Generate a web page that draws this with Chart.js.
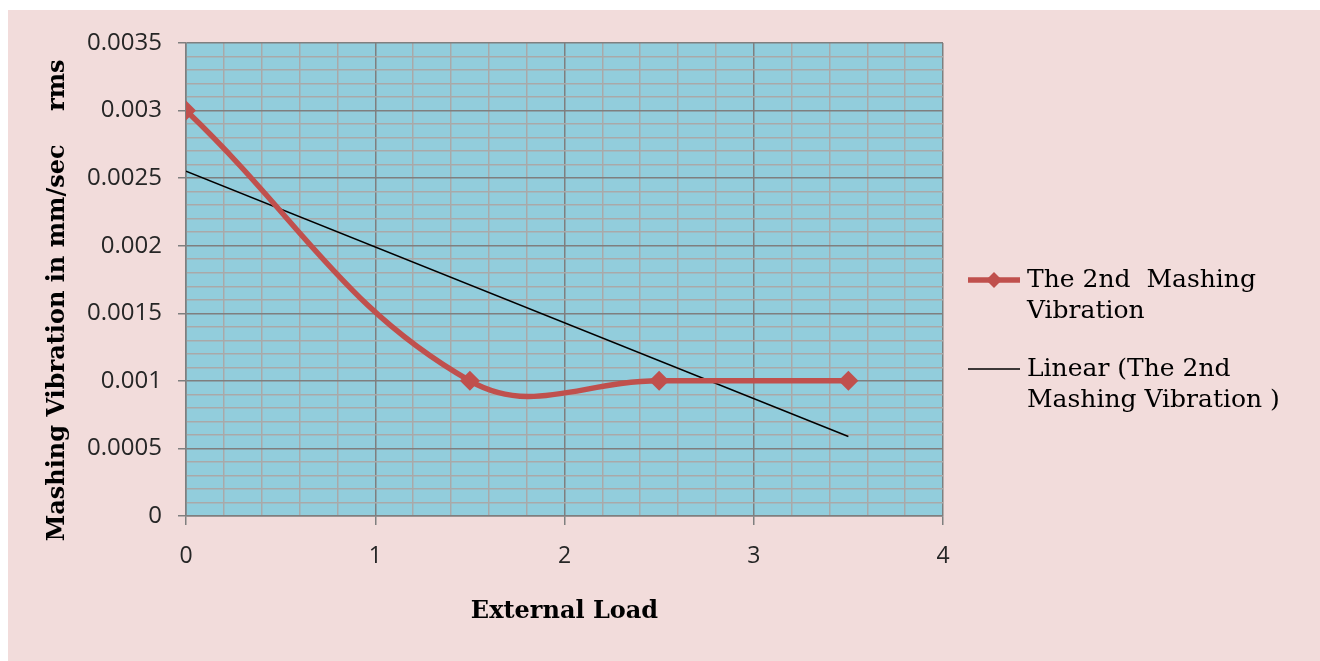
<!DOCTYPE html>
<html>
<head>
<meta charset="utf-8">
<script src="https://cdn.jsdelivr.net/npm/chart.js@4"></script>
<style>
  html, body { margin: 0; padding: 0; background: #ffffff; }
  #wrap { width: 1320px; height: 661px; position: relative; }
</style>
</head>
<body>
<div id="wrap"><canvas id="vibChart" width="1320" height="661"></canvas></div>
<script>
// External load vs. 2nd mashing vibration (mm/sec rms)
const loads = [0, 1.5, 2.5, 3.5];
const vibration = [0.003, 0.001, 0.001, 0.001];
const xTickLabels = ['0', '1', '2', '3', '4'];
const yTickLabels = ['0', '0.0005', '0.001', '0.0015', '0.002', '0.0025', '0.003', '0.0035'];

const seriesName = ['The 2nd  Mashing', 'Vibration'];
const trendName = ['Linear (The 2nd', 'Mashing Vibration )'];

// least squares trendline over the measured points
function linearFit(xs, ys) {
    const n = xs.length;
    const mx = xs.reduce((a, b) => a + b, 0) / n;
    const my = ys.reduce((a, b) => a + b, 0) / n;
    let sxy = 0, sxx = 0;
    for (let i = 0; i < n; i++) {
        sxy += (xs[i] - mx) * (ys[i] - my);
        sxx += (xs[i] - mx) * (xs[i] - mx);
    }
    const slope = sxy / sxx;
    return { slope, intercept: my - slope * mx };
}
const fit = linearFit(loads, vibration);
const xFirst = loads[0], xLast = loads[loads.length - 1];
const trendPoints = [
    { x: xFirst, y: fit.intercept + fit.slope * xFirst },
    { x: xLast, y: fit.intercept + fit.slope * xLast }
];

const RED = '#c0504d';
const MAJOR_GRID = '#7f7f7f';
const MINOR_GRID = '#a9a9a9';
const serif = '"DejaVu Serif", "Liberation Serif", serif';
const sans = '"Open Sans", "Noto Sans", sans-serif';

const isMajor = (v, step) => Math.abs(v / step - Math.round(v / step)) < 1e-6;

const backdrop = {
    id: 'backdrop',
    beforeDraw(chart) {
        const { ctx, chartArea: a } = chart;
        ctx.save();
        ctx.fillStyle = '#ffffff';
        ctx.fillRect(0, 0, chart.width, chart.height);
        ctx.fillStyle = '#f2dcdb';
        ctx.fillRect(8, 10, chart.width - 8, chart.height - 10);
        ctx.fillStyle = '#92cddc';
        ctx.fillRect(a.left, a.top, a.right - a.left, a.bottom - a.top);
        ctx.restore();
    }
};

// legend drawn by hand so the entries can wrap over two lines
const sideLegend = {
    id: 'sideLegend',
    afterDraw(chart) {
        const ctx = chart.ctx;
        const ds = chart.data.datasets;
        const x0 = 968, x1 = 1020, tx = 1027;
        const entries = [
            { lines: seriesName, y: 280, d: ds[0] },
            { lines: trendName, y: 369, d: ds[1] }
        ];
        ctx.save();
        ctx.font = '25px ' + serif;
        ctx.textBaseline = 'middle';
        ctx.fillStyle = '#000';
        entries.forEach(e => {
            ctx.strokeStyle = e.d.borderColor;
            ctx.lineWidth = e.d.borderWidth;
            ctx.beginPath();
            ctx.moveTo(x0, e.y);
            ctx.lineTo(x1, e.y);
            ctx.stroke();
            if (e.d.pointRadius > 0) {
                const m = (x0 + x1) / 2, r = 8;
                ctx.fillStyle = e.d.pointBackgroundColor;
                ctx.beginPath();
                ctx.moveTo(m, e.y - r);
                ctx.lineTo(m + r, e.y);
                ctx.lineTo(m, e.y + r);
                ctx.lineTo(m - r, e.y);
                ctx.closePath();
                ctx.fill();
                ctx.fillStyle = '#000';
            }
            e.lines.forEach((t, i) => ctx.fillText(t, tx, e.y + i * 31));
        });
        ctx.restore();
    }
};

new Chart(document.getElementById('vibChart'), {
    type: 'scatter',
    data: {
        datasets: [{
            label: seriesName.join(' '),
            data: loads.map((x, i) => ({ x, y: vibration[i] })),
            showLine: true,
            borderColor: RED,
            borderWidth: 5.5,
            tension: 0.4,
            pointStyle: 'rectRot',
            pointRadius: 10,
            pointBackgroundColor: RED,
            pointBorderColor: RED,
            pointBorderWidth: 0
        }, {
            label: trendName.join(' '),
            data: trendPoints,
            showLine: true,
            borderColor: '#000000',
            borderWidth: 1.5,
            pointRadius: 0
        }]
    },
    options: {
        responsive: false,
        animation: false,
        layout: { padding: { left: 43, right: 377, top: 43, bottom: 30 } },
        plugins: { legend: { display: false }, tooltip: { enabled: false } },
        scales: {
            x: {
                type: 'linear',
                min: 0, max: 4,
                ticks: {
                    stepSize: 0.2,
                    autoSkip: false,
                    maxRotation: 0,
                    padding: 18,
                    color: '#262626',
                    font: { family: sans, size: 23 },
                    callback: v => isMajor(v, 1) ? xTickLabels[Math.round(v)] : ''
                },
                grid: {
                    color: c => isMajor(c.tick.value, 1) ? MAJOR_GRID : MINOR_GRID,
                    tickColor: c => isMajor(c.tick.value, 1) ? MAJOR_GRID : 'rgba(0,0,0,0)',
                    tickLength: 9,
                    lineWidth: 1.5
                },
                border: { color: MAJOR_GRID, width: 1.5 },
                title: {
                    display: true,
                    text: 'External Load',
                    font: { family: serif, size: 24, weight: 'bold' },
                    color: '#000',
                    padding: { top: 0, bottom: 5 }
                },
                afterFit: s => { s.height = 115; }
            },
            y: {
                type: 'linear',
                min: 0, max: 0.0035,
                ticks: {
                    stepSize: 0.0001,
                    autoSkip: false,
                    padding: 16,
                    color: '#262626',
                    font: { family: sans, size: 24 },
                    callback: v => isMajor(v, 0.0005) ? yTickLabels[Math.round(v / 0.0005)] : ''
                },
                grid: {
                    color: c => isMajor(c.tick.value, 0.0005) ? MAJOR_GRID : MINOR_GRID,
                    tickColor: c => isMajor(c.tick.value, 0.0005) ? MAJOR_GRID : 'rgba(0,0,0,0)',
                    tickLength: 8,
                    lineWidth: 1.5
                },
                border: { color: MAJOR_GRID, width: 1.5 },
                title: {
                    display: true,
                    // trailing spaces keep the title sitting a little low, as laid out
                    text: 'Mashing Vibration in mm/sec    rms     ',
                    font: { family: serif, size: 24, weight: 'bold' },
                    color: '#000',
                    padding: { top: 0, bottom: 0 }
                },
                afterFit: s => { s.width = 143; }
            }
        }
    },
    plugins: [backdrop, sideLegend]
});
</script>
</body>
</html>
